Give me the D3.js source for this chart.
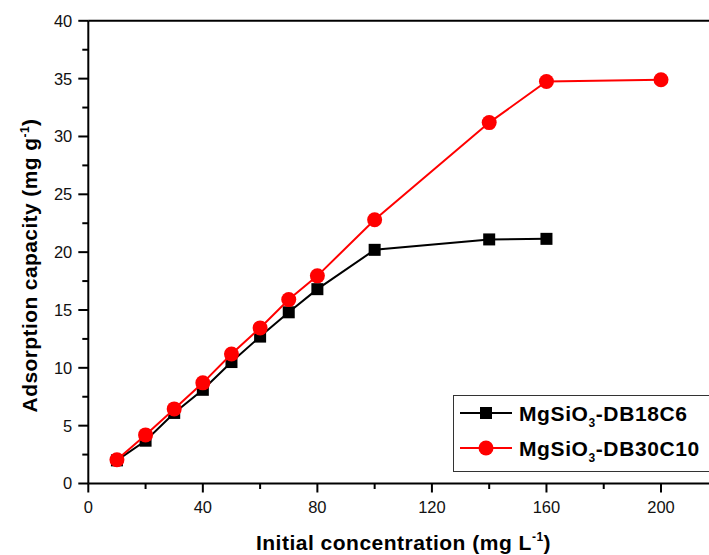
<!DOCTYPE html>
<html>
<head>
<meta charset="utf-8">
<script src="https://cdn.jsdelivr.net/npm/d3@7"></script>
<style>
html,body{margin:0;padding:0;background:#fff;}
svg{display:block;font-family:"Liberation Sans",Arial,sans-serif;}
</style>
</head>
<body>
<svg id="chart" width="709" height="555"></svg>
<script>
const concA = [10,20,30,40,50,60,70,80,100,140,160];
const capA  = [2.0,3.7,6.1,8.1,10.5,12.7,14.8,16.8,20.2,21.1,21.15];
const concB = [10,20,30,40,50,60,70,80,100,140,160,200];
const capB  = [2.05,4.2,6.45,8.7,11.2,13.45,15.9,17.95,22.8,31.2,34.75,34.9];
const nameA = "DB18C6";
const nameB = "DB30C10";
const xTicks = [0,40,80,120,160,200];
const yTicks = [0,5,10,15,20,25,30,35,40];

const svg = d3.select("#chart");
const x = d3.scaleLinear().domain([0,200]).range([88.3,661]);
const y = d3.scaleLinear().domain([0,40]).range([483.5,20.8]);
const xMax = 720;

// frame top line
svg.append("line").attr("x1",x(0)).attr("x2",xMax).attr("y1",y(40)).attr("y2",y(40))
  .attr("stroke","#000").attr("stroke-width",2);

// x axis
const xMinor = d3.range(0,221,20);
const gx = svg.append("g").attr("transform",`translate(0,${y(0)})`);
gx.append("line").attr("x1",x(0)).attr("x2",xMax).attr("stroke","#000").attr("stroke-width",2);
gx.selectAll(".mt").data(xMinor).join("line")
  .attr("x1",d=>x(d)).attr("x2",d=>x(d)).attr("y1",0)
  .attr("y2",d=>xTicks.includes(d)?9:5.5).attr("stroke","#000").attr("stroke-width",2);
gx.selectAll(".tl").data(xTicks).join("text")
  .attr("x",d=>x(d)).attr("y",29.5).attr("text-anchor","middle")
  .attr("font-size",16.5).attr("fill","#111").text(d=>d);

// y axis
const yMinor = d3.range(0,40.1,2.5);
const gy = svg.append("g").attr("transform",`translate(${x(0)},0)`);
gy.append("line").attr("y1",y(0)).attr("y2",y(40)).attr("stroke","#000").attr("stroke-width",2);
gy.selectAll(".mt").data(yMinor).join("line")
  .attr("y1",d=>y(d)).attr("y2",d=>y(d)).attr("x1",0)
  .attr("x2",d=>yTicks.includes(d)?-10:-6).attr("stroke","#000").attr("stroke-width",2);
gy.selectAll(".tl").data(yTicks).join("text")
  .attr("x",-16).attr("y",d=>y(d)).attr("dy","0.36em").attr("text-anchor","end")
  .attr("font-size",16.5).attr("fill","#111").text(d=>d);

// axis titles
const xt = svg.append("text").attr("x",403.5).attr("y",549.5).attr("text-anchor","middle")
  .attr("font-size",21).attr("font-weight","bold").attr("letter-spacing",0.5);
xt.append("tspan").text("Initial concentration (mg L");
xt.append("tspan").attr("dy",-8.5).attr("font-size",12).text("-1");
xt.append("tspan").attr("dy",8.5).text(")");

const yt = svg.append("text").attr("transform","translate(37,265.5) rotate(-90)")
  .attr("text-anchor","middle").attr("font-size",21).attr("font-weight","bold").attr("letter-spacing",0.4);
yt.append("tspan").text("Adsorption capacity (mg g");
yt.append("tspan").attr("dy",-8.5).attr("font-size",12).text("-1");
yt.append("tspan").attr("dy",8.5).text(")");

// series
const line = d3.line().x(d=>x(d[0])).y(d=>y(d[1]));
const dataA = concA.map((c,i)=>[c,capA[i]]);
const dataB = concB.map((c,i)=>[c,capB[i]]);

svg.append("path").datum(dataA).attr("d",line).attr("fill","none").attr("stroke","#000").attr("stroke-width",2);
svg.selectAll(".sqA").data(dataA).join("rect")
  .attr("x",d=>x(d[0])-6).attr("y",d=>y(d[1])-6).attr("width",12).attr("height",12).attr("fill","#000");

svg.append("path").datum(dataB).attr("d",line).attr("fill","none").attr("stroke","#ff0000").attr("stroke-width",2);
svg.selectAll(".ciB").data(dataB).join("circle")
  .attr("cx",d=>x(d[0])).attr("cy",d=>y(d[1])).attr("r",7.5).attr("fill","#ff0000");

// legend
const lg = svg.append("g");
lg.append("rect").attr("x",453.5).attr("y",395.5).attr("width",300).attr("height",76)
  .attr("fill","#fff").attr("stroke","#333").attr("stroke-width",1);
const items = [{name:nameA,color:"#000",shape:"sq",yy:413},{name:nameB,color:"#ff0000",shape:"ci",yy:448}];
items.forEach(it=>{
  lg.append("line").attr("x1",460).attr("x2",512).attr("y1",it.yy).attr("y2",it.yy)
    .attr("stroke",it.color).attr("stroke-width",2);
  if(it.shape==="sq"){
    lg.append("rect").attr("x",480).attr("y",it.yy-6).attr("width",12).attr("height",12).attr("fill",it.color);
  } else {
    lg.append("circle").attr("cx",486).attr("cy",it.yy).attr("r",7.5).attr("fill",it.color);
  }
  const t = lg.append("text").attr("x",519).attr("y",it.yy+7.5).attr("font-size",21)
    .attr("font-weight","bold").attr("letter-spacing",0.6).attr("fill","#000");
  t.append("tspan").text("MgSiO");
  t.append("tspan").attr("dy",6).attr("font-size",12).text("3");
  t.append("tspan").attr("dy",-6).text("-"+it.name);
});
</script>
</body>
</html>
